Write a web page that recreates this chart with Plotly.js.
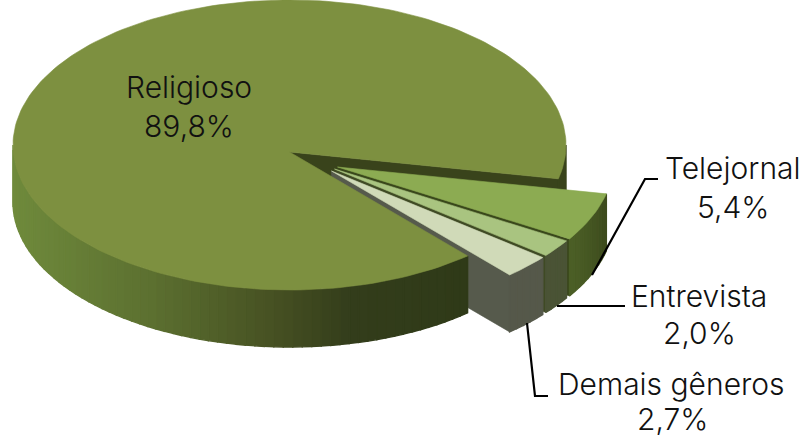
<!DOCTYPE html>
<html><head><meta charset="utf-8">
<script src="https://cdn.plot.ly/plotly-3.0.0.min.js"></script>
<style>html,body{margin:0;padding:0;background:#fff}#c{width:804px;height:437px}</style>
</head><body><div id="c"></div>
<script>
// Data
const categories = ['Religioso','Telejornal','Entrevista','Demais gêneros'];
const shares = [89.8, 5.4, 2.0, 2.7];
const topColors = ['#7d9040','#8cab52','#a9c480','#d0dab8'];
const wallColors = ['#39431b','#39471b','#3f4a24','#565a4c'];
const sideColors = [null,['#4c5f26','#3c4a1c'],['#4a5335','#4a5335'],['#55584a','#55584a']];
const nameCenters = [[189,87],[733,168],[699,296],[671,384]];
const valueCenters = [[189,126],[733,207],[699,333],[672,419]];
const leaders = ['M592,275 L645,179 L658,179','M557,306 L625,306','M527,323 L535,396 L548,396'];
const rimStopX = [13,150,280,350,467];
const rimStopColor = ['#6f8a3c','#5c7030','#454f22','#333d1b','#2f3a18'];

// Projection constants (pixels)
const CX=289.5, CY=145, RX=276.5, RY=145, APEX=7, DEPTH=57, START=103.5;
const offsets=[[0,0],[48,15],[45,17],[42,19]];
const total=shares.reduce((a,b)=>a+b,0);
const rad=d=>d*Math.PI/180;
const pt=(i,deg,dz=0)=>[CX+offsets[i][0]+RX*Math.sin(rad(deg)), CY+offsets[i][1]-RY*Math.cos(rad(deg))+dz];
const apex=(i,dz=0)=>[CX+offsets[i][0], CY+APEX+offsets[i][1]+dz];
const arc=(i,a,b,dz=0)=>{const n=Math.max(2,Math.ceil(Math.abs(b-a)/1.5));const o=[];for(let k=0;k<=n;k++)o.push(pt(i,a+(b-a)*k/n,dz));return o;};

// angular spans: exploded slices run clockwise from START, main closes the circle
const spans=[];let cur=START;
for(let i=1;i<shares.length;i++){const s=shares[i]/total*360;spans[i]=[cur,cur+s];cur+=s;}
spans[0]=[cur,START+360];

const traces=[];
function poly(pts,color,w){
  const c=pts.concat([pts[0]]);
  traces.push({type:'scatter',mode:'lines',x:c.map(p=>p[0]),y:c.map(p=>p[1]),fill:'toself',fillcolor:color,
    line:{color:color,width:w===undefined?0.6:w},hoverinfo:'skip',showlegend:false});
}
const wall=(i,deg,color)=>poly([apex(i),pt(i,deg),pt(i,deg,DEPTH),apex(i,DEPTH)],color);
function mix(a,b,t){const h=s=>[1,3,5].map(k=>parseInt(s.substr(k,2),16));const A=h(a),B=h(b);
  return 'rgb('+A.map((v,k)=>Math.round(v+(B[k]-v)*t)).join(',')+')';}
function side(i,a,b,colorAt,stepDeg){
  const n=Math.max(1,Math.ceil(Math.abs(b-a)/stepDeg));const step=(b-a)/n;
  for(let k=0;k<n;k++){
    const d=a+k*step;
    const top=arc(i,d,d+step), bot=arc(i,d+step,d,DEPTH);
    poly(top.concat(bot),colorAt((k+0.5)/n,d+step/2),1.4);
  }
}
// back wall of main slice and its short right-hand rim
wall(0,START,wallColors[0]);
side(0,90,START,()=>'#39431b',20);
// facing walls of exploded slices
for(let i=1;i<shares.length;i++) wall(i,spans[i][1],wallColors[i]);
// main rim, front half
side(0,spans[0][0],270,(t,d)=>{
  const x=CX+RX*Math.sin(rad(d));
  let k=0; while(k<rimStopX.length-2 && x>rimStopX[k+1]) k++;
  const u=Math.min(1,Math.max(0,(x-rimStopX[k])/(rimStopX[k+1]-rimStopX[k])));
  return mix(rimStopColor[k],rimStopColor[k+1],u);
},2);
// main top
poly([apex(0)].concat(arc(0,spans[0][0],spans[0][1])),topColors[0]);
// exploded rims and tops
for(let i=1;i<shares.length;i++){
  const c=sideColors[i];
  side(i,spans[i][0],spans[i][1],t=>mix(c[1],c[0],t),2);
}
for(let i=1;i<shares.length;i++){
  poly([apex(i)].concat(arc(i,spans[i][0],spans[i][1])),topColors[i]);
}

const fmt=v=>v.toFixed(1).replace('.',',')+'%';
const textFont={family:'Inter, sans-serif',size:30,color:'#111',weight:300};
const note=(text,c)=>({x:c[0],y:c[1],xref:'x',yref:'y',text,showarrow:false,xanchor:'center',yanchor:'middle',align:'center',font:textFont});
const annotations=categories.map((c,i)=>note(c,nameCenters[i]))
  .concat(shares.map((v,i)=>note(fmt(v),valueCenters[i])));
const shapes=leaders.map(p=>({type:'path',path:p,line:{color:'#000',width:2.2},xref:'x',yref:'y'}));

Plotly.newPlot('c',traces,{
  width:804,height:437,margin:{l:0,r:0,t:0,b:0},paper_bgcolor:'#fff',plot_bgcolor:'#fff',
  xaxis:{range:[0,804],visible:false,fixedrange:true},
  yaxis:{range:[437,0],visible:false,fixedrange:true},
  shapes,annotations,showlegend:false
},{displayModeBar:false,staticPlot:true});
</script></body></html>
